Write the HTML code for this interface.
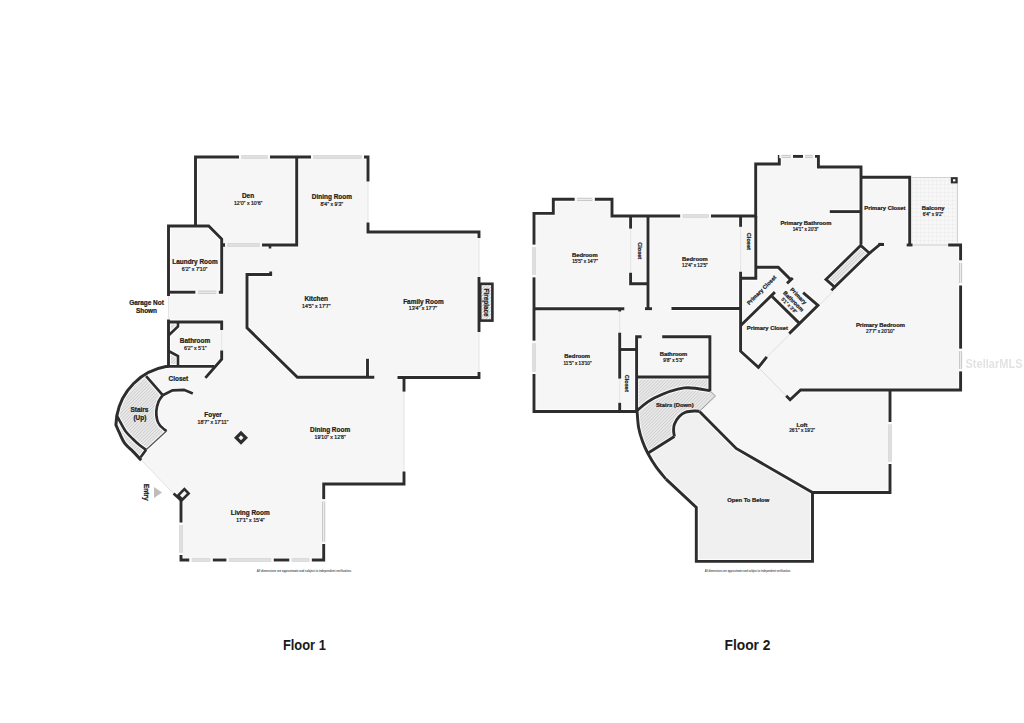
<!DOCTYPE html>
<html><head><meta charset="utf-8"><style>
html,body{margin:0;padding:0;background:#fff;width:1024px;height:723px;overflow:hidden}
svg{display:block}
text{font-family:"Liberation Sans",sans-serif;text-anchor:middle;fill:#1c1c1c;stroke:#1c1c1c;stroke-width:0.24px}
.n{font-weight:bold}
.d{font-weight:normal}
.fp{fill:#505050;stroke:none;font-weight:bold}
.fl{font-size:13.8px;font-weight:bold;fill:#1a1a1a;stroke:none}
.wm{font-size:12.5px;font-weight:bold;fill:#e3e3e3;stroke:none}
</style></head><body>
<svg width="1024" height="723" viewBox="0 0 1024 723">
<defs>
<filter id="blur" x="-10%" y="-30%" width="120%" height="160%"><feGaussianBlur stdDeviation="0.7"/></filter>
<pattern id="hat" patternUnits="userSpaceOnUse" width="2.3" height="2.3" patternTransform="rotate(45)">
<rect width="2.3" height="2.3" fill="#e9e9e9"/><line x1="0" y1="0" x2="0" y2="2.3" stroke="#b4b4b4" stroke-width="0.8"/></pattern>
<pattern id="hat2" patternUnits="userSpaceOnUse" width="2.4" height="2.4" patternTransform="rotate(45)">
<rect width="2.4" height="2.4" fill="#f0f0f0"/><line x1="0" y1="0" x2="0" y2="2.4" stroke="#9a9a9a" stroke-width="0.8"/></pattern>
<pattern id="grid" patternUnits="userSpaceOnUse" width="4" height="4">
<rect width="4" height="4" fill="#f7f7f7"/><path d="M0,0 H4 M0,0 V4" stroke="#e2e2e2" stroke-width="0.6"/></pattern>
</defs><path d="M195.5,157 H368 V232 H479 V377.5 H404 V484 H323.7 V560 H181 V500 L174,494 L141.2,460.1  C139.8,458.7 135.7,454.2 132.9,451.4 C130.1,448.6 126.8,446.1 124.6,443.1 C122.4,440.1 121.0,436.2 119.6,433.2 C118.1,430.2 116.5,426.3 115.9,424.9 L116.8,415.8 A60.7,60.7 0 0 1 166,366.6 L168.5,366.4 V226 H195.5 Z" fill="#f6f6f6"/>
<path d="M146.1,376.2 L162.7,395.2  C162.0,396.2 159.7,398.8 158.6,401.5 C157.5,404.2 156.5,408.3 156.3,411.4 C156.1,414.5 156.6,417.6 157.2,420.0 C157.8,422.4 158.4,423.6 160.0,425.5 C161.6,427.4 165.4,430.2 166.5,431.1 L146.1,449.8  C144.9,449.0 141.3,446.6 139.1,444.8 C136.9,443.0 135.1,441.2 132.9,439.0 C130.7,436.8 128.0,434.5 125.8,431.5 C123.6,428.5 121.1,423.4 119.6,420.8 C118.1,418.2 117.3,416.6 116.8,415.8 A60.7,60.7 0 0 1 146.1,376.2 Z" fill="url(#hat)"/>
<path d="M116.8,415.8  C117.3,416.6 118.1,418.2 119.6,420.8 C121.1,423.4 123.6,428.5 125.8,431.5 C128.0,434.5 130.7,436.8 132.9,439.0 C135.1,441.2 136.9,443.0 139.1,444.8 C141.3,446.6 144.9,449.0 146.1,449.8 L141.2,460.1  C139.8,458.7 135.7,454.2 132.9,451.4 C130.1,448.6 126.8,446.1 124.6,443.1 C122.4,440.1 121.0,436.2 119.6,433.2 C118.1,430.2 116.5,426.3 115.9,424.9 Z" fill="url(#hat)"/>
<path d="M168.5,322 H178 V326.5 L168.5,335.5 Z" fill="url(#hat)"/>
<path d="M168.5,351 L178,356 V366.4 H168.5 Z" fill="url(#hat)"/>
<line x1="368.0" y1="181.5" x2="368.0" y2="222.5" stroke="#e4e4e4" stroke-width="1.0"/>
<line x1="479.0" y1="238.0" x2="479.0" y2="277.0" stroke="#e4e4e4" stroke-width="1.0"/>
<line x1="479.0" y1="332.0" x2="479.0" y2="372.0" stroke="#e4e4e4" stroke-width="1.0"/>
<line x1="404.0" y1="391.6" x2="404.0" y2="471.6" stroke="#e4e4e4" stroke-width="1.0"/>
<line x1="168.5" y1="296.0" x2="168.5" y2="319.0" stroke="#e4e4e4" stroke-width="1.0"/>
<line x1="221.7" y1="330.0" x2="221.7" y2="350.5" stroke="#e4e4e4" stroke-width="1.0"/>
<line x1="141.2" y1="460.1" x2="174.0" y2="494.0" stroke="#e2e2e2" stroke-width="1.0"/>
<path d="M154,487 L162,492.5 L154,498 Z" fill="#bdbdbd"/>
<text x="304.2" y="571.7" class="fp" style="font-size:3.1px" textLength="95" lengthAdjust="spacingAndGlyphs">All dimensions are approximate and subject to independent verification.</text>
<text x="304.4" y="649.9" class="fl" textLength="43" lengthAdjust="spacingAndGlyphs">Floor 1</text>
<path d="M534,213.4 H553.3 V199.3 H612 V216 H755.7 V164 H779.3 V156.4 H818.4 V167 H861 V177.3 H957.6 V245 H960.6 V390 H890 V492.5 H812.5 V561.4 H696.3 V507.4 L666,479.1  C664.4,477.1 659.1,471.2 656.1,466.9 C653.1,462.6 650.1,457.5 647.8,453.2 C645.5,448.9 643.9,445.4 642.4,441.1 C640.9,436.8 639.5,432.3 638.6,427.4 C637.7,422.4 637.4,414.1 637.1,411.4 V411.5 H534 Z" fill="#f6f6f6"/>
<path d="M699.5,411.4 L736.2,448.4 L812.5,492.5 V561.4 H696.3 V507.4 L666,479.1  C664.4,477.1 659.1,471.2 656.1,466.9 C653.1,462.6 649.2,455.5 647.8,453.2 L674.4,436.5  C674.3,435.5 673.6,432.4 673.6,430.4 C673.6,428.4 673.5,426.6 674.4,424.3 C675.3,422.0 677.1,418.7 679.0,416.7 C680.9,414.7 683.1,413.1 685.8,412.2 C688.4,411.2 692.6,411.1 694.9,411.0 C697.2,410.9 698.7,411.3 699.5,411.4 Z" fill="#f0f0f0"/>
<path d="M637,377 H709.9 V390.8  C705.6,390.3 693.5,386.7 684.2,387.9 C674.9,389.1 662.1,394.2 654.2,398.0 C646.3,401.8 639.9,408.4 637.0,410.5 Z" fill="url(#hat)"/>
<path d="M637,410.5  C639.9,408.4 646.3,401.8 654.2,398.0 C662.1,394.2 674.9,389.1 684.2,387.9 C693.5,386.7 705.6,390.3 709.9,390.8 L715.5,396 L699.5,411.4  C698.7,411.3 697.2,410.9 694.9,411.0 C692.6,411.1 688.4,411.2 685.8,412.2 C683.1,413.1 680.9,414.7 679.0,416.7 C677.1,418.7 675.3,422.0 674.4,424.3 C673.5,426.6 673.6,428.4 673.6,430.4 C673.6,432.4 674.3,435.5 674.4,436.5 L647.8,453.2  C646.9,451.2 643.9,445.4 642.4,441.1 C640.9,436.8 639.5,432.3 638.6,427.4 C637.7,422.4 637.4,414.1 637.1,411.4 Z" fill="url(#hat)"/>
<path d="M825.9,279.4 L860.7,245.5 L869.5,253.2 L834.6,287.1 Z" fill="url(#hat)"/>
<rect x="910" y="177.5" width="47.6" height="67.5" fill="url(#grid)" stroke="#d0d0d0" stroke-width="1"/>
<line x1="630.6" y1="228.6" x2="630.6" y2="272.7" stroke="#e4e4e4" stroke-width="1.0"/>
<line x1="740.6" y1="226.8" x2="740.6" y2="271.8" stroke="#e4e4e4" stroke-width="1.0"/>
<line x1="619.7" y1="311.0" x2="619.7" y2="332.7" stroke="#e4e4e4" stroke-width="1.0"/>
<line x1="619.7" y1="378.6" x2="619.7" y2="402.8" stroke="#e4e4e4" stroke-width="1.0"/>
<line x1="758.4" y1="367.4" x2="786.2" y2="395.8" stroke="#dcdcdc" stroke-width="1.0"/>
<line x1="766.8" y1="356.9" x2="834.6" y2="290.0" stroke="#e0e0e0" stroke-width="1.0"/>
<line x1="709.9" y1="390.8" x2="715.5" y2="396.0" stroke="#999" stroke-width="1.0"/>
<line x1="715.5" y1="396.0" x2="699.5" y2="411.4" stroke="#999" stroke-width="1.0"/>
<text x="747.7" y="571.6" class="fp" style="font-size:2.9px" textLength="86" lengthAdjust="spacingAndGlyphs">All dimensions are approximate and subject to independent verification.</text>
<text x="747.5" y="650.2" class="fl" textLength="46" lengthAdjust="spacingAndGlyphs">Floor 2</text>
<text x="994" y="367.5" class="wm" textLength="57" lengthAdjust="spacingAndGlyphs" filter="url(#blur)">StellarMLS</text>
<path d="M195.5,226 V157 H239" fill="none" stroke="#ffffff" stroke-width="4.90" stroke-linecap="butt" stroke-linejoin="miter" opacity="0.85"/>
<path d="M270,157 H311" fill="none" stroke="#ffffff" stroke-width="4.90" stroke-linecap="butt" stroke-linejoin="miter" opacity="0.85"/>
<path d="M364,157 H368 V181.5" fill="none" stroke="#ffffff" stroke-width="4.90" stroke-linecap="butt" stroke-linejoin="miter" opacity="0.85"/>
<path d="M368,222.5 V232 H479 V238" fill="none" stroke="#ffffff" stroke-width="4.90" stroke-linecap="butt" stroke-linejoin="miter" opacity="0.85"/>
<path d="M479,277 V332" fill="none" stroke="#ffffff" stroke-width="4.90" stroke-linecap="butt" stroke-linejoin="miter" opacity="0.85"/>
<path d="M479,372 V377.5 H397.5" fill="none" stroke="#ffffff" stroke-width="4.90" stroke-linecap="butt" stroke-linejoin="miter" opacity="0.85"/>
<path d="M404,377.5 V391.6" fill="none" stroke="#ffffff" stroke-width="4.90" stroke-linecap="butt" stroke-linejoin="miter" opacity="0.85"/>
<path d="M404,471.6 V484 H323.7 V499.3" fill="none" stroke="#ffffff" stroke-width="4.90" stroke-linecap="butt" stroke-linejoin="miter" opacity="0.85"/>
<path d="M323.7,544 V560 H311.6" fill="none" stroke="#ffffff" stroke-width="4.90" stroke-linecap="butt" stroke-linejoin="miter" opacity="0.85"/>
<path d="M289.5,560 H273.5" fill="none" stroke="#ffffff" stroke-width="4.90" stroke-linecap="butt" stroke-linejoin="miter" opacity="0.85"/>
<path d="M226.6,560 H212.6" fill="none" stroke="#ffffff" stroke-width="4.90" stroke-linecap="butt" stroke-linejoin="miter" opacity="0.85"/>
<path d="M189.5,560 H181 V555" fill="none" stroke="#ffffff" stroke-width="4.90" stroke-linecap="butt" stroke-linejoin="miter" opacity="0.85"/>
<path d="M181,522.7 V500" fill="none" stroke="#ffffff" stroke-width="4.90" stroke-linecap="butt" stroke-linejoin="miter" opacity="0.85"/>
<path d="M296.7,157 V245 H262" fill="none" stroke="#ffffff" stroke-width="4.90" stroke-linecap="butt" stroke-linejoin="miter" opacity="0.85"/>
<path d="M270,245 V248.5" fill="none" stroke="#ffffff" stroke-width="4.60" stroke-linecap="butt" stroke-linejoin="miter" opacity="0.85"/>
<path d="M168.5,296 V226 H208.7 L221.7,239 V292.2 H218.6" fill="none" stroke="#ffffff" stroke-width="4.90" stroke-linecap="butt" stroke-linejoin="miter" opacity="0.85"/>
<path d="M195.6,292.2 H168.5" fill="none" stroke="#ffffff" stroke-width="4.90" stroke-linecap="butt" stroke-linejoin="miter" opacity="0.85"/>
<path d="M270.7,271.6 V274.5 H247 V327.8 L297.4,377.2 H374.3" fill="none" stroke="#ffffff" stroke-width="4.90" stroke-linecap="butt" stroke-linejoin="miter" opacity="0.85"/>
<path d="M367.5,358.8 V377.2" fill="none" stroke="#ffffff" stroke-width="4.90" stroke-linecap="butt" stroke-linejoin="miter" opacity="0.85"/>
<path d="M168.5,319.4 V366.4 H214.3" fill="none" stroke="#ffffff" stroke-width="4.90" stroke-linecap="butt" stroke-linejoin="miter" opacity="0.85"/>
<path d="M168.5,322 H221.7 V330" fill="none" stroke="#ffffff" stroke-width="4.90" stroke-linecap="butt" stroke-linejoin="miter" opacity="0.85"/>
<path d="M221.7,350.5 V359.1 L205.4,377.9" fill="none" stroke="#ffffff" stroke-width="4.90" stroke-linecap="butt" stroke-linejoin="miter" opacity="0.85"/>
<path d="M178,322 V326.5 L168.5,335.5" fill="none" stroke="#ffffff" stroke-width="4.60" stroke-linecap="butt" stroke-linejoin="miter" opacity="0.85"/>
<path d="M168.5,351 L178,356 V366.4" fill="none" stroke="#ffffff" stroke-width="4.60" stroke-linecap="butt" stroke-linejoin="miter" opacity="0.85"/>
<path d="M168.5,366.4 L166,366.6 A60.7,60.7 0 0 0 116.8,415.8 L115.9,424.9  C116.5,426.3 118.1,430.2 119.6,433.2 C121.0,436.2 122.4,440.1 124.6,443.1 C126.8,446.1 130.1,448.6 132.9,451.4 C135.7,454.2 139.8,458.7 141.2,460.1" fill="none" stroke="#ffffff" stroke-width="5.00" stroke-linecap="butt" stroke-linejoin="miter" opacity="0.85"/>
<path d="M116.8,415.8 C117.3,416.6 118.1,418.2 119.6,420.8 C121.1,423.4 123.6,428.5 125.8,431.5 C128.0,434.5 130.7,436.8 132.9,439.0 C135.1,441.2 136.9,443.0 139.1,444.8 C141.3,446.6 144.9,449.0 146.1,449.8" fill="none" stroke="#ffffff" stroke-width="4.70" stroke-linecap="butt" stroke-linejoin="miter" opacity="0.85"/>
<path d="M146.1,449.8 L140.6,457.2" fill="none" stroke="#ffffff" stroke-width="4.70" stroke-linecap="butt" stroke-linejoin="miter" opacity="0.85"/>
<path d="M146.1,376.2 L162.7,395.2" fill="none" stroke="#ffffff" stroke-width="4.70" stroke-linecap="butt" stroke-linejoin="miter" opacity="0.85"/>
<path d="M162.7,395.2 C162.0,396.2 159.7,398.8 158.6,401.5 C157.5,404.2 156.5,408.3 156.3,411.4 C156.1,414.5 156.6,417.6 157.2,420.0 C157.8,422.4 158.4,423.6 160.0,425.5 C161.6,427.4 165.4,430.2 166.5,431.1" fill="none" stroke="#ffffff" stroke-width="4.70" stroke-linecap="butt" stroke-linejoin="miter" opacity="0.85"/>
<path d="M166.5,431.1 L146.1,449.8" fill="none" stroke="#ffffff" stroke-width="3.30" stroke-linecap="butt" stroke-linejoin="miter" opacity="0.85"/>
<path d="M162.7,395.2 L172.5,390.4 L184,389.8 L192.8,393.5" fill="none" stroke="#ffffff" stroke-width="4.70" stroke-linecap="butt" stroke-linejoin="miter" opacity="0.85"/>
<path d="M173.6,493.6 L181.3,500.6" fill="none" stroke="#ffffff" stroke-width="4.70" stroke-linecap="butt" stroke-linejoin="miter" opacity="0.85"/>
<path d="M534,340.8 V277.2" fill="none" stroke="#ffffff" stroke-width="4.90" stroke-linecap="butt" stroke-linejoin="miter" opacity="0.85"/>
<path d="M534,244.8 V213.4 H553.3 V199.3 H574.8" fill="none" stroke="#ffffff" stroke-width="4.90" stroke-linecap="butt" stroke-linejoin="miter" opacity="0.85"/>
<path d="M594.6,199.3 H612 V216 H680.4" fill="none" stroke="#ffffff" stroke-width="4.90" stroke-linecap="butt" stroke-linejoin="miter" opacity="0.85"/>
<path d="M711,216 H755.7 V164 H779.3 V156.4 H782" fill="none" stroke="#ffffff" stroke-width="4.90" stroke-linecap="butt" stroke-linejoin="miter" opacity="0.85"/>
<path d="M793,156.4 H803" fill="none" stroke="#ffffff" stroke-width="4.90" stroke-linecap="butt" stroke-linejoin="miter" opacity="0.85"/>
<path d="M815,156.4 H818.4 V167 H861 V244.4" fill="none" stroke="#ffffff" stroke-width="4.90" stroke-linecap="butt" stroke-linejoin="miter" opacity="0.85"/>
<path d="M861,177.3 H909.7 V245" fill="none" stroke="#ffffff" stroke-width="4.90" stroke-linecap="butt" stroke-linejoin="miter" opacity="0.85"/>
<path d="M906.7,245 H912.5" fill="none" stroke="#ffffff" stroke-width="4.90" stroke-linecap="butt" stroke-linejoin="miter" opacity="0.85"/>
<path d="M878.3,244.3 H883.2" fill="none" stroke="#ffffff" stroke-width="4.90" stroke-linecap="butt" stroke-linejoin="miter" opacity="0.85"/>
<path d="M948.2,245 H960.6 V260.6" fill="none" stroke="#ffffff" stroke-width="4.90" stroke-linecap="butt" stroke-linejoin="miter" opacity="0.85"/>
<path d="M960.6,285.3 V348.8" fill="none" stroke="#ffffff" stroke-width="4.90" stroke-linecap="butt" stroke-linejoin="miter" opacity="0.85"/>
<path d="M960.6,371.2 V390 H800.6 L790.1,399.7 L786.2,395.8" fill="none" stroke="#ffffff" stroke-width="4.90" stroke-linecap="butt" stroke-linejoin="miter" opacity="0.85"/>
<path d="M890,390 V422" fill="none" stroke="#ffffff" stroke-width="4.90" stroke-linecap="butt" stroke-linejoin="miter" opacity="0.85"/>
<path d="M890,464 V492.5 H812.5 V561.4 H696.3 V507.4 L666,479.1" fill="none" stroke="#ffffff" stroke-width="4.90" stroke-linecap="butt" stroke-linejoin="miter" opacity="0.85"/>
<path d="M666.0,479.1 C664.4,477.1 659.1,471.2 656.1,466.9 C653.1,462.6 650.1,457.5 647.8,453.2 C645.5,448.9 643.9,445.4 642.4,441.1 C640.9,436.8 639.5,432.3 638.6,427.4 C637.7,422.4 637.4,414.1 637.1,411.4" fill="none" stroke="#ffffff" stroke-width="4.90" stroke-linecap="butt" stroke-linejoin="miter" opacity="0.85"/>
<path d="M534,374 V411.5 H636.6 V336.8 H641.6" fill="none" stroke="#ffffff" stroke-width="4.90" stroke-linecap="butt" stroke-linejoin="miter" opacity="0.85"/>
<path d="M662.2,336.8 H709.9 V391" fill="none" stroke="#ffffff" stroke-width="4.90" stroke-linecap="butt" stroke-linejoin="miter" opacity="0.85"/>
<path d="M637,377 H709.9" fill="none" stroke="#ffffff" stroke-width="4.90" stroke-linecap="butt" stroke-linejoin="miter" opacity="0.85"/>
<path d="M637.0,410.5 C639.9,408.4 646.3,401.8 654.2,398.0 C662.1,394.2 674.9,389.1 684.2,387.9 C693.5,386.7 705.6,390.3 709.9,390.8" fill="none" stroke="#ffffff" stroke-width="4.90" stroke-linecap="butt" stroke-linejoin="miter" opacity="0.85"/>
<path d="M699.5,411.4 L736.2,448.4 L812.5,492.5" fill="none" stroke="#ffffff" stroke-width="4.90" stroke-linecap="butt" stroke-linejoin="miter" opacity="0.85"/>
<path d="M647.8,453.2 L674.4,436.5" fill="none" stroke="#ffffff" stroke-width="4.90" stroke-linecap="butt" stroke-linejoin="miter" opacity="0.85"/>
<path d="M674.4,436.5 C674.3,435.5 673.6,432.4 673.6,430.4 C673.6,428.4 673.5,426.6 674.4,424.3 C675.3,422.0 677.1,418.7 679.0,416.7 C680.9,414.7 683.1,413.1 685.8,412.2 C688.4,411.2 692.6,411.1 694.9,411.0 C697.2,410.9 698.7,411.3 699.5,411.4" fill="none" stroke="#ffffff" stroke-width="4.90" stroke-linecap="butt" stroke-linejoin="miter" opacity="0.85"/>
<path d="M619.7,308.7 V311.5" fill="none" stroke="#ffffff" stroke-width="4.90" stroke-linecap="butt" stroke-linejoin="miter" opacity="0.85"/>
<path d="M619.7,332.7 V378.6" fill="none" stroke="#ffffff" stroke-width="4.90" stroke-linecap="butt" stroke-linejoin="miter" opacity="0.85"/>
<path d="M619.7,402.8 V411.5" fill="none" stroke="#ffffff" stroke-width="4.90" stroke-linecap="butt" stroke-linejoin="miter" opacity="0.85"/>
<path d="M619.7,349.5 H636.8" fill="none" stroke="#ffffff" stroke-width="4.90" stroke-linecap="butt" stroke-linejoin="miter" opacity="0.85"/>
<path d="M534,308.7 H624.3" fill="none" stroke="#ffffff" stroke-width="4.90" stroke-linecap="butt" stroke-linejoin="miter" opacity="0.85"/>
<path d="M645,308.7 H652" fill="none" stroke="#ffffff" stroke-width="4.90" stroke-linecap="butt" stroke-linejoin="miter" opacity="0.85"/>
<path d="M648,216 V308.7" fill="none" stroke="#ffffff" stroke-width="4.90" stroke-linecap="butt" stroke-linejoin="miter" opacity="0.85"/>
<path d="M671.5,308.5 H741" fill="none" stroke="#ffffff" stroke-width="4.90" stroke-linecap="butt" stroke-linejoin="miter" opacity="0.85"/>
<path d="M630.6,216 V228.6" fill="none" stroke="#ffffff" stroke-width="4.90" stroke-linecap="butt" stroke-linejoin="miter" opacity="0.85"/>
<path d="M630.6,272.7 V283.8 H648" fill="none" stroke="#ffffff" stroke-width="4.90" stroke-linecap="butt" stroke-linejoin="miter" opacity="0.85"/>
<path d="M740.6,216 V226.8" fill="none" stroke="#ffffff" stroke-width="4.90" stroke-linecap="butt" stroke-linejoin="miter" opacity="0.85"/>
<path d="M740.6,271.8 V351.2 L758.4,367.4 L766.8,356.9" fill="none" stroke="#ffffff" stroke-width="4.90" stroke-linecap="butt" stroke-linejoin="miter" opacity="0.85"/>
<path d="M740.6,278.3 H755.8 V216" fill="none" stroke="#ffffff" stroke-width="4.90" stroke-linecap="butt" stroke-linejoin="miter" opacity="0.85"/>
<path d="M755.8,267.2 H778.2 L790.9,279.9" fill="none" stroke="#ffffff" stroke-width="4.90" stroke-linecap="butt" stroke-linejoin="miter" opacity="0.85"/>
<path d="M787.0,283.4 L792.8,278.0" fill="none" stroke="#ffffff" stroke-width="4.90" stroke-linecap="butt" stroke-linejoin="miter" opacity="0.85"/>
<path d="M741,325.3 L774.9,292.1" fill="none" stroke="#ffffff" stroke-width="4.90" stroke-linecap="butt" stroke-linejoin="miter" opacity="0.85"/>
<path d="M772.1,296.5 L799.2,323.1" fill="none" stroke="#ffffff" stroke-width="4.90" stroke-linecap="butt" stroke-linejoin="miter" opacity="0.85"/>
<path d="M803.1,292.7 L818,305.4 L789.2,333.6" fill="none" stroke="#ffffff" stroke-width="4.90" stroke-linecap="butt" stroke-linejoin="miter" opacity="0.85"/>
<path d="M829.8,211.6 H861" fill="none" stroke="#ffffff" stroke-width="4.90" stroke-linecap="butt" stroke-linejoin="miter" opacity="0.85"/>
<path d="M825.9,279.4 L860.7,245.5 L869.5,253.2 L834.6,287.1 Z" fill="none" stroke="#ffffff" stroke-width="4.80" stroke-linecap="butt" stroke-linejoin="miter" opacity="0.85"/>
<path d="M869.5,253.2 L880,244.5 H884" fill="none" stroke="#ffffff" stroke-width="4.80" stroke-linecap="butt" stroke-linejoin="miter" opacity="0.85"/>
<path d="M834.6,287.1 L831.4,290.4" fill="none" stroke="#ffffff" stroke-width="4.80" stroke-linecap="butt" stroke-linejoin="miter" opacity="0.85"/>
<path d="M195.5,226 V157 H239" fill="none" stroke="#2d2d2d" stroke-width="2.90" stroke-linecap="butt" stroke-linejoin="miter"/>
<path d="M270,157 H311" fill="none" stroke="#2d2d2d" stroke-width="2.90" stroke-linecap="butt" stroke-linejoin="miter"/>
<path d="M364,157 H368 V181.5" fill="none" stroke="#2d2d2d" stroke-width="2.90" stroke-linecap="butt" stroke-linejoin="miter"/>
<path d="M368,222.5 V232 H479 V238" fill="none" stroke="#2d2d2d" stroke-width="2.90" stroke-linecap="butt" stroke-linejoin="miter"/>
<path d="M479,277 V332" fill="none" stroke="#2d2d2d" stroke-width="2.90" stroke-linecap="butt" stroke-linejoin="miter"/>
<path d="M479,372 V377.5 H397.5" fill="none" stroke="#2d2d2d" stroke-width="2.90" stroke-linecap="butt" stroke-linejoin="miter"/>
<path d="M404,377.5 V391.6" fill="none" stroke="#2d2d2d" stroke-width="2.90" stroke-linecap="butt" stroke-linejoin="miter"/>
<path d="M404,471.6 V484 H323.7 V499.3" fill="none" stroke="#2d2d2d" stroke-width="2.90" stroke-linecap="butt" stroke-linejoin="miter"/>
<path d="M323.7,544 V560 H311.6" fill="none" stroke="#2d2d2d" stroke-width="2.90" stroke-linecap="butt" stroke-linejoin="miter"/>
<path d="M289.5,560 H273.5" fill="none" stroke="#2d2d2d" stroke-width="2.90" stroke-linecap="butt" stroke-linejoin="miter"/>
<path d="M226.6,560 H212.6" fill="none" stroke="#2d2d2d" stroke-width="2.90" stroke-linecap="butt" stroke-linejoin="miter"/>
<path d="M189.5,560 H181 V555" fill="none" stroke="#2d2d2d" stroke-width="2.90" stroke-linecap="butt" stroke-linejoin="miter"/>
<path d="M181,522.7 V500" fill="none" stroke="#2d2d2d" stroke-width="2.90" stroke-linecap="butt" stroke-linejoin="miter"/>
<path d="M296.7,157 V245 H262" fill="none" stroke="#2d2d2d" stroke-width="2.90" stroke-linecap="butt" stroke-linejoin="miter"/>
<path d="M270,245 V248.5" fill="none" stroke="#2d2d2d" stroke-width="2.60" stroke-linecap="butt" stroke-linejoin="miter"/>
<path d="M168.5,296 V226 H208.7 L221.7,239 V292.2 H218.6" fill="none" stroke="#2d2d2d" stroke-width="2.90" stroke-linecap="butt" stroke-linejoin="miter"/>
<path d="M195.6,292.2 H168.5" fill="none" stroke="#2d2d2d" stroke-width="2.90" stroke-linecap="butt" stroke-linejoin="miter"/>
<path d="M270.7,271.6 V274.5 H247 V327.8 L297.4,377.2 H374.3" fill="none" stroke="#2d2d2d" stroke-width="2.90" stroke-linecap="butt" stroke-linejoin="miter"/>
<path d="M367.5,358.8 V377.2" fill="none" stroke="#2d2d2d" stroke-width="2.90" stroke-linecap="butt" stroke-linejoin="miter"/>
<path d="M168.5,319.4 V366.4 H214.3" fill="none" stroke="#2d2d2d" stroke-width="2.90" stroke-linecap="butt" stroke-linejoin="miter"/>
<path d="M168.5,322 H221.7 V330" fill="none" stroke="#2d2d2d" stroke-width="2.90" stroke-linecap="butt" stroke-linejoin="miter"/>
<path d="M221.7,350.5 V359.1 L205.4,377.9" fill="none" stroke="#2d2d2d" stroke-width="2.90" stroke-linecap="butt" stroke-linejoin="miter"/>
<path d="M178,322 V326.5 L168.5,335.5" fill="none" stroke="#2d2d2d" stroke-width="2.60" stroke-linecap="butt" stroke-linejoin="miter"/>
<path d="M168.5,351 L178,356 V366.4" fill="none" stroke="#2d2d2d" stroke-width="2.60" stroke-linecap="butt" stroke-linejoin="miter"/>
<path d="M168.5,366.4 L166,366.6 A60.7,60.7 0 0 0 116.8,415.8 L115.9,424.9  C116.5,426.3 118.1,430.2 119.6,433.2 C121.0,436.2 122.4,440.1 124.6,443.1 C126.8,446.1 130.1,448.6 132.9,451.4 C135.7,454.2 139.8,458.7 141.2,460.1" fill="none" stroke="#2d2d2d" stroke-width="3.00" stroke-linecap="butt" stroke-linejoin="miter"/>
<path d="M116.8,415.8 C117.3,416.6 118.1,418.2 119.6,420.8 C121.1,423.4 123.6,428.5 125.8,431.5 C128.0,434.5 130.7,436.8 132.9,439.0 C135.1,441.2 136.9,443.0 139.1,444.8 C141.3,446.6 144.9,449.0 146.1,449.8" fill="none" stroke="#2d2d2d" stroke-width="2.70" stroke-linecap="butt" stroke-linejoin="miter"/>
<path d="M146.1,449.8 L140.6,457.2" fill="none" stroke="#2d2d2d" stroke-width="2.70" stroke-linecap="butt" stroke-linejoin="miter"/>
<path d="M146.1,376.2 L162.7,395.2" fill="none" stroke="#2d2d2d" stroke-width="2.70" stroke-linecap="butt" stroke-linejoin="miter"/>
<path d="M162.7,395.2 C162.0,396.2 159.7,398.8 158.6,401.5 C157.5,404.2 156.5,408.3 156.3,411.4 C156.1,414.5 156.6,417.6 157.2,420.0 C157.8,422.4 158.4,423.6 160.0,425.5 C161.6,427.4 165.4,430.2 166.5,431.1" fill="none" stroke="#2d2d2d" stroke-width="2.70" stroke-linecap="butt" stroke-linejoin="miter"/>
<path d="M166.5,431.1 L146.1,449.8" fill="none" stroke="#555" stroke-width="1.30" stroke-linecap="butt" stroke-linejoin="miter"/>
<path d="M162.7,395.2 L172.5,390.4 L184,389.8 L192.8,393.5" fill="none" stroke="#2d2d2d" stroke-width="2.70" stroke-linecap="butt" stroke-linejoin="miter"/>
<path d="M173.6,493.6 L181.3,500.6" fill="none" stroke="#2d2d2d" stroke-width="2.70" stroke-linecap="butt" stroke-linejoin="miter"/>
<path d="M534,340.8 V277.2" fill="none" stroke="#2d2d2d" stroke-width="2.90" stroke-linecap="butt" stroke-linejoin="miter"/>
<path d="M534,244.8 V213.4 H553.3 V199.3 H574.8" fill="none" stroke="#2d2d2d" stroke-width="2.90" stroke-linecap="butt" stroke-linejoin="miter"/>
<path d="M594.6,199.3 H612 V216 H680.4" fill="none" stroke="#2d2d2d" stroke-width="2.90" stroke-linecap="butt" stroke-linejoin="miter"/>
<path d="M711,216 H755.7 V164 H779.3 V156.4 H782" fill="none" stroke="#2d2d2d" stroke-width="2.90" stroke-linecap="butt" stroke-linejoin="miter"/>
<path d="M793,156.4 H803" fill="none" stroke="#2d2d2d" stroke-width="2.90" stroke-linecap="butt" stroke-linejoin="miter"/>
<path d="M815,156.4 H818.4 V167 H861 V244.4" fill="none" stroke="#2d2d2d" stroke-width="2.90" stroke-linecap="butt" stroke-linejoin="miter"/>
<path d="M861,177.3 H909.7 V245" fill="none" stroke="#2d2d2d" stroke-width="2.90" stroke-linecap="butt" stroke-linejoin="miter"/>
<path d="M906.7,245 H912.5" fill="none" stroke="#2d2d2d" stroke-width="2.90" stroke-linecap="butt" stroke-linejoin="miter"/>
<path d="M878.3,244.3 H883.2" fill="none" stroke="#2d2d2d" stroke-width="2.90" stroke-linecap="butt" stroke-linejoin="miter"/>
<path d="M948.2,245 H960.6 V260.6" fill="none" stroke="#2d2d2d" stroke-width="2.90" stroke-linecap="butt" stroke-linejoin="miter"/>
<path d="M960.6,285.3 V348.8" fill="none" stroke="#2d2d2d" stroke-width="2.90" stroke-linecap="butt" stroke-linejoin="miter"/>
<path d="M960.6,371.2 V390 H800.6 L790.1,399.7 L786.2,395.8" fill="none" stroke="#2d2d2d" stroke-width="2.90" stroke-linecap="butt" stroke-linejoin="miter"/>
<path d="M890,390 V422" fill="none" stroke="#2d2d2d" stroke-width="2.90" stroke-linecap="butt" stroke-linejoin="miter"/>
<path d="M890,464 V492.5 H812.5 V561.4 H696.3 V507.4 L666,479.1" fill="none" stroke="#2d2d2d" stroke-width="2.90" stroke-linecap="butt" stroke-linejoin="miter"/>
<path d="M666.0,479.1 C664.4,477.1 659.1,471.2 656.1,466.9 C653.1,462.6 650.1,457.5 647.8,453.2 C645.5,448.9 643.9,445.4 642.4,441.1 C640.9,436.8 639.5,432.3 638.6,427.4 C637.7,422.4 637.4,414.1 637.1,411.4" fill="none" stroke="#2d2d2d" stroke-width="2.90" stroke-linecap="butt" stroke-linejoin="miter"/>
<path d="M534,374 V411.5 H636.6 V336.8 H641.6" fill="none" stroke="#2d2d2d" stroke-width="2.90" stroke-linecap="butt" stroke-linejoin="miter"/>
<path d="M662.2,336.8 H709.9 V391" fill="none" stroke="#2d2d2d" stroke-width="2.90" stroke-linecap="butt" stroke-linejoin="miter"/>
<path d="M637,377 H709.9" fill="none" stroke="#2d2d2d" stroke-width="2.90" stroke-linecap="butt" stroke-linejoin="miter"/>
<path d="M637.0,410.5 C639.9,408.4 646.3,401.8 654.2,398.0 C662.1,394.2 674.9,389.1 684.2,387.9 C693.5,386.7 705.6,390.3 709.9,390.8" fill="none" stroke="#2d2d2d" stroke-width="2.90" stroke-linecap="butt" stroke-linejoin="miter"/>
<path d="M699.5,411.4 L736.2,448.4 L812.5,492.5" fill="none" stroke="#2d2d2d" stroke-width="2.90" stroke-linecap="butt" stroke-linejoin="miter"/>
<path d="M647.8,453.2 L674.4,436.5" fill="none" stroke="#2d2d2d" stroke-width="2.90" stroke-linecap="butt" stroke-linejoin="miter"/>
<path d="M674.4,436.5 C674.3,435.5 673.6,432.4 673.6,430.4 C673.6,428.4 673.5,426.6 674.4,424.3 C675.3,422.0 677.1,418.7 679.0,416.7 C680.9,414.7 683.1,413.1 685.8,412.2 C688.4,411.2 692.6,411.1 694.9,411.0 C697.2,410.9 698.7,411.3 699.5,411.4" fill="none" stroke="#2d2d2d" stroke-width="2.90" stroke-linecap="butt" stroke-linejoin="miter"/>
<path d="M619.7,308.7 V311.5" fill="none" stroke="#2d2d2d" stroke-width="2.90" stroke-linecap="butt" stroke-linejoin="miter"/>
<path d="M619.7,332.7 V378.6" fill="none" stroke="#2d2d2d" stroke-width="2.90" stroke-linecap="butt" stroke-linejoin="miter"/>
<path d="M619.7,402.8 V411.5" fill="none" stroke="#2d2d2d" stroke-width="2.90" stroke-linecap="butt" stroke-linejoin="miter"/>
<path d="M619.7,349.5 H636.8" fill="none" stroke="#2d2d2d" stroke-width="2.90" stroke-linecap="butt" stroke-linejoin="miter"/>
<path d="M534,308.7 H624.3" fill="none" stroke="#2d2d2d" stroke-width="2.90" stroke-linecap="butt" stroke-linejoin="miter"/>
<path d="M645,308.7 H652" fill="none" stroke="#2d2d2d" stroke-width="2.90" stroke-linecap="butt" stroke-linejoin="miter"/>
<path d="M648,216 V308.7" fill="none" stroke="#2d2d2d" stroke-width="2.90" stroke-linecap="butt" stroke-linejoin="miter"/>
<path d="M671.5,308.5 H741" fill="none" stroke="#2d2d2d" stroke-width="2.90" stroke-linecap="butt" stroke-linejoin="miter"/>
<path d="M630.6,216 V228.6" fill="none" stroke="#2d2d2d" stroke-width="2.90" stroke-linecap="butt" stroke-linejoin="miter"/>
<path d="M630.6,272.7 V283.8 H648" fill="none" stroke="#2d2d2d" stroke-width="2.90" stroke-linecap="butt" stroke-linejoin="miter"/>
<path d="M740.6,216 V226.8" fill="none" stroke="#2d2d2d" stroke-width="2.90" stroke-linecap="butt" stroke-linejoin="miter"/>
<path d="M740.6,271.8 V351.2 L758.4,367.4 L766.8,356.9" fill="none" stroke="#2d2d2d" stroke-width="2.90" stroke-linecap="butt" stroke-linejoin="miter"/>
<path d="M740.6,278.3 H755.8 V216" fill="none" stroke="#2d2d2d" stroke-width="2.90" stroke-linecap="butt" stroke-linejoin="miter"/>
<path d="M755.8,267.2 H778.2 L790.9,279.9" fill="none" stroke="#2d2d2d" stroke-width="2.90" stroke-linecap="butt" stroke-linejoin="miter"/>
<path d="M787.0,283.4 L792.8,278.0" fill="none" stroke="#2d2d2d" stroke-width="2.90" stroke-linecap="butt" stroke-linejoin="miter"/>
<path d="M741,325.3 L774.9,292.1" fill="none" stroke="#2d2d2d" stroke-width="2.90" stroke-linecap="butt" stroke-linejoin="miter"/>
<path d="M772.1,296.5 L799.2,323.1" fill="none" stroke="#2d2d2d" stroke-width="2.90" stroke-linecap="butt" stroke-linejoin="miter"/>
<path d="M803.1,292.7 L818,305.4 L789.2,333.6" fill="none" stroke="#2d2d2d" stroke-width="2.90" stroke-linecap="butt" stroke-linejoin="miter"/>
<path d="M829.8,211.6 H861" fill="none" stroke="#2d2d2d" stroke-width="2.90" stroke-linecap="butt" stroke-linejoin="miter"/>
<path d="M825.9,279.4 L860.7,245.5 L869.5,253.2 L834.6,287.1 Z" fill="none" stroke="#2d2d2d" stroke-width="2.80" stroke-linecap="butt" stroke-linejoin="miter"/>
<path d="M869.5,253.2 L880,244.5 H884" fill="none" stroke="#2d2d2d" stroke-width="2.80" stroke-linecap="butt" stroke-linejoin="miter"/>
<path d="M834.6,287.1 L831.4,290.4" fill="none" stroke="#2d2d2d" stroke-width="2.80" stroke-linecap="butt" stroke-linejoin="miter"/>
<rect x="222.3" y="243.3" width="3.4" height="3.4" fill="#2d2d2d"/>
<path d="M178.2,495.4 L184.4,489.2 L188.6,493.4 L182.4,499.6 Z" fill="none" stroke="#2d2d2d" stroke-width="2.6" stroke-linejoin="miter"/>
<path d="M241,430.8 L248,437.8 L241,444.8 L234,437.8 Z" fill="#2d2d2d"/>
<path d="M241,435.3 L243.5,437.8 L241,440.3 L238.5,437.8 Z" fill="#f6f6f6"/>
<rect x="480.2" y="283.8" width="12.2" height="36.8" fill="url(#hat2)" stroke="#2d2d2d" stroke-width="2.6"/>
<rect x="950.8" y="177.2" width="6.8" height="6.2" fill="#2d2d2d"/>
<rect x="953" y="179.2" width="2.4" height="2.2" fill="#fff"/>
<line x1="239.00" y1="157.00" x2="270.00" y2="157.00" stroke="#fafafa" stroke-width="3.6"/>
<line x1="241.30" y1="157.00" x2="267.70" y2="157.00" stroke="#bcbcbc" stroke-width="3.0"/>
<line x1="241.30" y1="157.00" x2="267.70" y2="157.00" stroke="#ebebeb" stroke-width="1.5"/>
<line x1="311.00" y1="157.00" x2="364.00" y2="157.00" stroke="#fafafa" stroke-width="3.6"/>
<line x1="313.30" y1="157.00" x2="361.70" y2="157.00" stroke="#bcbcbc" stroke-width="3.0"/>
<line x1="313.30" y1="157.00" x2="361.70" y2="157.00" stroke="#ebebeb" stroke-width="1.5"/>
<line x1="195.60" y1="292.20" x2="218.60" y2="292.20" stroke="#fafafa" stroke-width="3.6"/>
<line x1="197.90" y1="292.20" x2="216.30" y2="292.20" stroke="#bcbcbc" stroke-width="3.0"/>
<line x1="197.90" y1="292.20" x2="216.30" y2="292.20" stroke="#ebebeb" stroke-width="1.5"/>
<line x1="189.50" y1="560.00" x2="212.60" y2="560.00" stroke="#fafafa" stroke-width="3.6"/>
<line x1="191.80" y1="560.00" x2="210.30" y2="560.00" stroke="#bcbcbc" stroke-width="3.0"/>
<line x1="191.80" y1="560.00" x2="210.30" y2="560.00" stroke="#ebebeb" stroke-width="1.5"/>
<line x1="226.60" y1="560.00" x2="273.50" y2="560.00" stroke="#fafafa" stroke-width="3.6"/>
<line x1="228.90" y1="560.00" x2="271.20" y2="560.00" stroke="#bcbcbc" stroke-width="3.0"/>
<line x1="228.90" y1="560.00" x2="271.20" y2="560.00" stroke="#ebebeb" stroke-width="1.5"/>
<line x1="289.50" y1="560.00" x2="311.60" y2="560.00" stroke="#fafafa" stroke-width="3.6"/>
<line x1="291.80" y1="560.00" x2="309.30" y2="560.00" stroke="#bcbcbc" stroke-width="3.0"/>
<line x1="291.80" y1="560.00" x2="309.30" y2="560.00" stroke="#ebebeb" stroke-width="1.5"/>
<line x1="181.00" y1="522.70" x2="181.00" y2="555.00" stroke="#fafafa" stroke-width="3.6"/>
<line x1="181.00" y1="525.00" x2="181.00" y2="552.70" stroke="#bcbcbc" stroke-width="3.0"/>
<line x1="181.00" y1="525.00" x2="181.00" y2="552.70" stroke="#ebebeb" stroke-width="1.5"/>
<line x1="323.70" y1="499.30" x2="323.70" y2="544.00" stroke="#fafafa" stroke-width="3.6"/>
<line x1="323.70" y1="501.60" x2="323.70" y2="541.70" stroke="#bcbcbc" stroke-width="3.0"/>
<line x1="323.70" y1="501.60" x2="323.70" y2="541.70" stroke="#ebebeb" stroke-width="1.5"/>
<line x1="225.00" y1="245.00" x2="262.00" y2="245.00" stroke="#fafafa" stroke-width="3.6"/>
<line x1="227.30" y1="245.00" x2="259.70" y2="245.00" stroke="#bcbcbc" stroke-width="3.0"/>
<line x1="227.30" y1="245.00" x2="259.70" y2="245.00" stroke="#ebebeb" stroke-width="1.5"/>
<line x1="534.00" y1="244.80" x2="534.00" y2="277.20" stroke="#fafafa" stroke-width="3.6"/>
<line x1="534.00" y1="247.10" x2="534.00" y2="274.90" stroke="#bcbcbc" stroke-width="3.0"/>
<line x1="534.00" y1="247.10" x2="534.00" y2="274.90" stroke="#ebebeb" stroke-width="1.5"/>
<line x1="534.00" y1="340.80" x2="534.00" y2="374.00" stroke="#fafafa" stroke-width="3.6"/>
<line x1="534.00" y1="343.10" x2="534.00" y2="371.70" stroke="#bcbcbc" stroke-width="3.0"/>
<line x1="534.00" y1="343.10" x2="534.00" y2="371.70" stroke="#ebebeb" stroke-width="1.5"/>
<line x1="574.80" y1="199.30" x2="594.60" y2="199.30" stroke="#fafafa" stroke-width="3.6"/>
<line x1="577.10" y1="199.30" x2="592.30" y2="199.30" stroke="#bcbcbc" stroke-width="3.0"/>
<line x1="577.10" y1="199.30" x2="592.30" y2="199.30" stroke="#ebebeb" stroke-width="1.5"/>
<line x1="680.40" y1="216.00" x2="711.00" y2="216.00" stroke="#fafafa" stroke-width="3.6"/>
<line x1="682.70" y1="216.00" x2="708.70" y2="216.00" stroke="#bcbcbc" stroke-width="3.0"/>
<line x1="682.70" y1="216.00" x2="708.70" y2="216.00" stroke="#ebebeb" stroke-width="1.5"/>
<line x1="779.30" y1="156.40" x2="793.00" y2="156.40" stroke="#fafafa" stroke-width="3.6"/>
<line x1="781.60" y1="156.40" x2="790.70" y2="156.40" stroke="#bcbcbc" stroke-width="3.0"/>
<line x1="781.60" y1="156.40" x2="790.70" y2="156.40" stroke="#ebebeb" stroke-width="1.5"/>
<line x1="803.00" y1="156.40" x2="815.00" y2="156.40" stroke="#fafafa" stroke-width="3.6"/>
<line x1="805.30" y1="156.40" x2="812.70" y2="156.40" stroke="#bcbcbc" stroke-width="3.0"/>
<line x1="805.30" y1="156.40" x2="812.70" y2="156.40" stroke="#ebebeb" stroke-width="1.5"/>
<line x1="960.60" y1="260.60" x2="960.60" y2="285.30" stroke="#fafafa" stroke-width="3.6"/>
<line x1="960.60" y1="262.90" x2="960.60" y2="283.00" stroke="#bcbcbc" stroke-width="3.0"/>
<line x1="960.60" y1="262.90" x2="960.60" y2="283.00" stroke="#ebebeb" stroke-width="1.5"/>
<line x1="960.60" y1="348.80" x2="960.60" y2="371.20" stroke="#fafafa" stroke-width="3.6"/>
<line x1="960.60" y1="351.10" x2="960.60" y2="368.90" stroke="#bcbcbc" stroke-width="3.0"/>
<line x1="960.60" y1="351.10" x2="960.60" y2="368.90" stroke="#ebebeb" stroke-width="1.5"/>
<line x1="890.00" y1="422.00" x2="890.00" y2="464.00" stroke="#fafafa" stroke-width="3.6"/>
<line x1="890.00" y1="424.30" x2="890.00" y2="461.70" stroke="#bcbcbc" stroke-width="3.0"/>
<line x1="890.00" y1="424.30" x2="890.00" y2="461.70" stroke="#ebebeb" stroke-width="1.5"/>
<text x="248.00" y="198.20" style="font-size:6.45px;font-weight:bold">Den</text>
<text x="248.20" y="204.60" style="font-size:5.20px;font-weight:normal">12'0" x 10'6"</text>
<text x="331.90" y="199.40" style="font-size:6.45px;font-weight:bold">Dining Room</text>
<text x="331.80" y="205.50" style="font-size:5.20px;font-weight:normal">8'4" x 9'3"</text>
<text x="195.00" y="263.80" style="font-size:6.45px;font-weight:bold">Laundry Room</text>
<text x="194.60" y="270.50" style="font-size:5.20px;font-weight:normal">6'2" x 7'10"</text>
<text x="146.50" y="305.10" style="font-size:6.45px;font-weight:bold">Garage Not</text>
<text x="146.50" y="313.30" style="font-size:6.45px;font-weight:bold">Shown</text>
<text x="316.20" y="301.25" style="font-size:6.45px;font-weight:bold">Kitchen</text>
<text x="316.30" y="308.00" style="font-size:5.20px;font-weight:normal">14'5" x 17'7"</text>
<text x="423.40" y="303.60" style="font-size:6.45px;font-weight:bold">Family Room</text>
<text x="423.00" y="310.30" style="font-size:5.20px;font-weight:normal">13'4" x 17'7"</text>
<text x="483.90" y="302.60" style="font-size:6.40px;font-weight:bold" transform="rotate(90.0 483.90 302.60)">Fireplace</text>
<text x="195.00" y="343.10" style="font-size:6.45px;font-weight:bold">Bathroom</text>
<text x="195.30" y="350.00" style="font-size:5.20px;font-weight:normal">6'2" x 5'1"</text>
<text x="178.40" y="380.90" style="font-size:6.45px;font-weight:bold">Closet</text>
<text x="139.50" y="412.30" style="font-size:6.45px;font-weight:bold">Stairs</text>
<text x="139.90" y="419.80" style="font-size:6.45px;font-weight:bold">(Up)</text>
<text x="213.10" y="417.10" style="font-size:6.45px;font-weight:bold">Foyer</text>
<text x="213.00" y="423.70" style="font-size:5.20px;font-weight:normal">18'7" x 17'11"</text>
<text x="330.10" y="432.20" style="font-size:6.45px;font-weight:bold">Dining Room</text>
<text x="330.20" y="439.00" style="font-size:5.20px;font-weight:normal">19'10" x 12'8"</text>
<text x="250.20" y="514.70" style="font-size:6.45px;font-weight:bold">Living Room</text>
<text x="250.40" y="521.70" style="font-size:5.20px;font-weight:normal">17'1" x 15'4"</text>
<text x="143.70" y="492.30" style="font-size:6.60px;font-weight:bold" transform="rotate(90.0 143.70 492.30)">Entry</text>
<text x="584.80" y="257.20" style="font-size:5.85px;font-weight:bold">Bedroom</text>
<text x="585.00" y="263.00" style="font-size:4.70px;font-weight:normal">15'5" x 14'7"</text>
<text x="638.20" y="250.70" style="font-size:5.60px;font-weight:bold" transform="rotate(90.0 638.20 250.70)">Closet</text>
<text x="694.90" y="260.70" style="font-size:5.85px;font-weight:bold">Bedroom</text>
<text x="694.90" y="266.60" style="font-size:4.70px;font-weight:normal">12'4" x 12'5"</text>
<text x="746.60" y="241.40" style="font-size:5.60px;font-weight:bold" transform="rotate(90.0 746.60 241.40)">Closet</text>
<text x="805.90" y="224.70" style="font-size:5.85px;font-weight:bold">Primary Bathroom</text>
<text x="805.60" y="230.60" style="font-size:4.70px;font-weight:normal">14'1" x 20'3"</text>
<text x="884.90" y="210.20" style="font-size:5.85px;font-weight:bold">Primary Closet</text>
<text x="933.10" y="210.20" style="font-size:5.85px;font-weight:bold">Balcony</text>
<text x="933.00" y="215.80" style="font-size:4.70px;font-weight:normal">6'4" x 9'2"</text>
<text x="762.90" y="291.50" style="font-size:5.50px;font-weight:bold" transform="rotate(-45.0 762.90 291.50)">Primary Closet</text>
<text x="797.17" y="297.33" style="font-size:5.60px;font-weight:bold" transform="rotate(45.0 797.17 297.33)">Primary</text>
<text x="792.07" y="302.63" style="font-size:5.60px;font-weight:bold" transform="rotate(45.0 792.07 302.63)">Bathroom</text>
<text x="788.03" y="306.57" style="font-size:4.60px;font-weight:normal" transform="rotate(45.0 788.03 306.57)">5'1" x 3'8"</text>
<text x="767.40" y="329.60" style="font-size:5.85px;font-weight:bold">Primary Closet</text>
<text x="880.40" y="326.80" style="font-size:5.85px;font-weight:bold">Primary Bedroom</text>
<text x="880.20" y="332.70" style="font-size:4.70px;font-weight:normal">27'7" x 20'10"</text>
<text x="577.20" y="358.30" style="font-size:5.85px;font-weight:bold">Bedroom</text>
<text x="577.60" y="364.50" style="font-size:4.70px;font-weight:normal">11'5" x 13'10"</text>
<text x="624.80" y="383.30" style="font-size:5.60px;font-weight:bold" transform="rotate(90.0 624.80 383.30)">Closet</text>
<text x="673.50" y="355.60" style="font-size:5.85px;font-weight:bold">Bathroom</text>
<text x="673.40" y="361.60" style="font-size:4.70px;font-weight:normal">9'8" x 5'3"</text>
<text x="674.80" y="407.20" style="font-size:5.85px;font-weight:bold">Stairs (Down)</text>
<text x="802.00" y="426.60" style="font-size:5.85px;font-weight:bold">Loft</text>
<text x="802.10" y="432.40" style="font-size:4.70px;font-weight:normal">26'1" x 19'2"</text>
<text x="748.20" y="502.40" style="font-size:5.85px;font-weight:bold">Open To Below</text>
</svg></body></html>
